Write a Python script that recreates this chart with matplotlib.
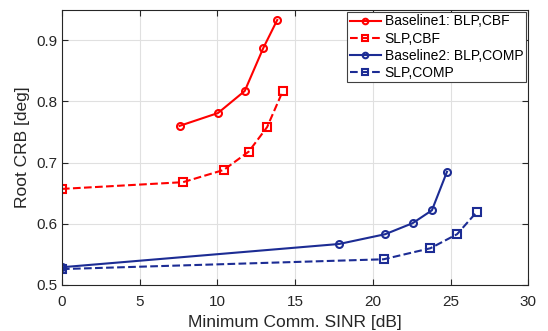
import matplotlib
matplotlib.use("Agg")
import matplotlib.pyplot as plt

plt.rcParams['font.family'] = ['Liberation Sans', 'DejaVu Sans']

b1_x = [7.57, 10.04, 11.76, 12.95, 13.85]
b1_y = [0.760, 0.781, 0.817, 0.887, 0.933]
slp_cbf_x = [0.0, 7.79, 10.41, 12.02, 13.2, 14.21]
slp_cbf_y = [0.657, 0.668, 0.688, 0.718, 0.758, 0.817]
b2_x = [0.0, 17.83, 20.8, 22.56, 23.8, 24.77]
b2_y = [0.529, 0.567, 0.583, 0.601, 0.622, 0.685]
slp_comp_x = [0.0, 20.69, 23.7, 25.42, 26.71]
slp_comp_y = [0.526, 0.542, 0.560, 0.583, 0.620]

labels = ['Baseline1: BLP,CBF', 'SLP,CBF', 'Baseline2: BLP,COMP', 'SLP,COMP']
red = '#ff0000'
blue = '#1c2c94'

fig = plt.figure(figsize=(5.48, 3.31), dpi=100)
ax = fig.add_axes([0.113, 0.139, 0.851, 0.832])

ax.plot(b1_x, b1_y, '-o', color=red, lw=1.5, ms=5, mfc='none', mew=1.5, label=labels[0])
ax.plot(slp_cbf_x, slp_cbf_y, '--s', color=red, lw=1.5, ms=5.5, mfc='none', mew=1.5, label=labels[1])
ax.plot(b2_x, b2_y, '-o', color=blue, lw=1.5, ms=5, mfc='none', mew=1.5, label=labels[2])
ax.plot(slp_comp_x, slp_comp_y, '--s', color=blue, lw=1.5, ms=5.5, mfc='none', mew=1.5, label=labels[3])

ax.set_xlim(0, 30)
ax.set_ylim(0.5, 0.95)
ax.set_xticks([0, 5, 10, 15, 20, 25, 30])
ax.set_yticks([0.5, 0.6, 0.7, 0.8, 0.9])
ax.set_yticklabels(['0.5', '0.6', '0.7', '0.8', '0.9'])
ax.grid(True, color='#e0e0e0', lw=0.8)
ax.set_axisbelow(True)
ax.tick_params(direction='in', top=True, right=True, labelsize=11, colors='#262626', length=4)
ax.tick_params(axis='x', pad=7)
for s in ax.spines.values():
    s.set_color('#262626')
    s.set_linewidth(0.8)
ax.set_xlabel('Minimum Comm. SINR [dB]', fontsize=12.5, color='#262626', labelpad=4.5)
ax.set_ylabel('Root CRB [deg]', fontsize=12.5, color='#262626', labelpad=4)

leg = ax.legend(loc='upper right', fontsize=10, fancybox=False, framealpha=1,
                edgecolor='#404040', handlelength=2.2, handletextpad=0.3,
                borderpad=0.2, labelspacing=0.22, borderaxespad=0.15, markerscale=0.8)
leg.get_frame().set_linewidth(0.8)

fig.savefig('out.png', dpi=100)
